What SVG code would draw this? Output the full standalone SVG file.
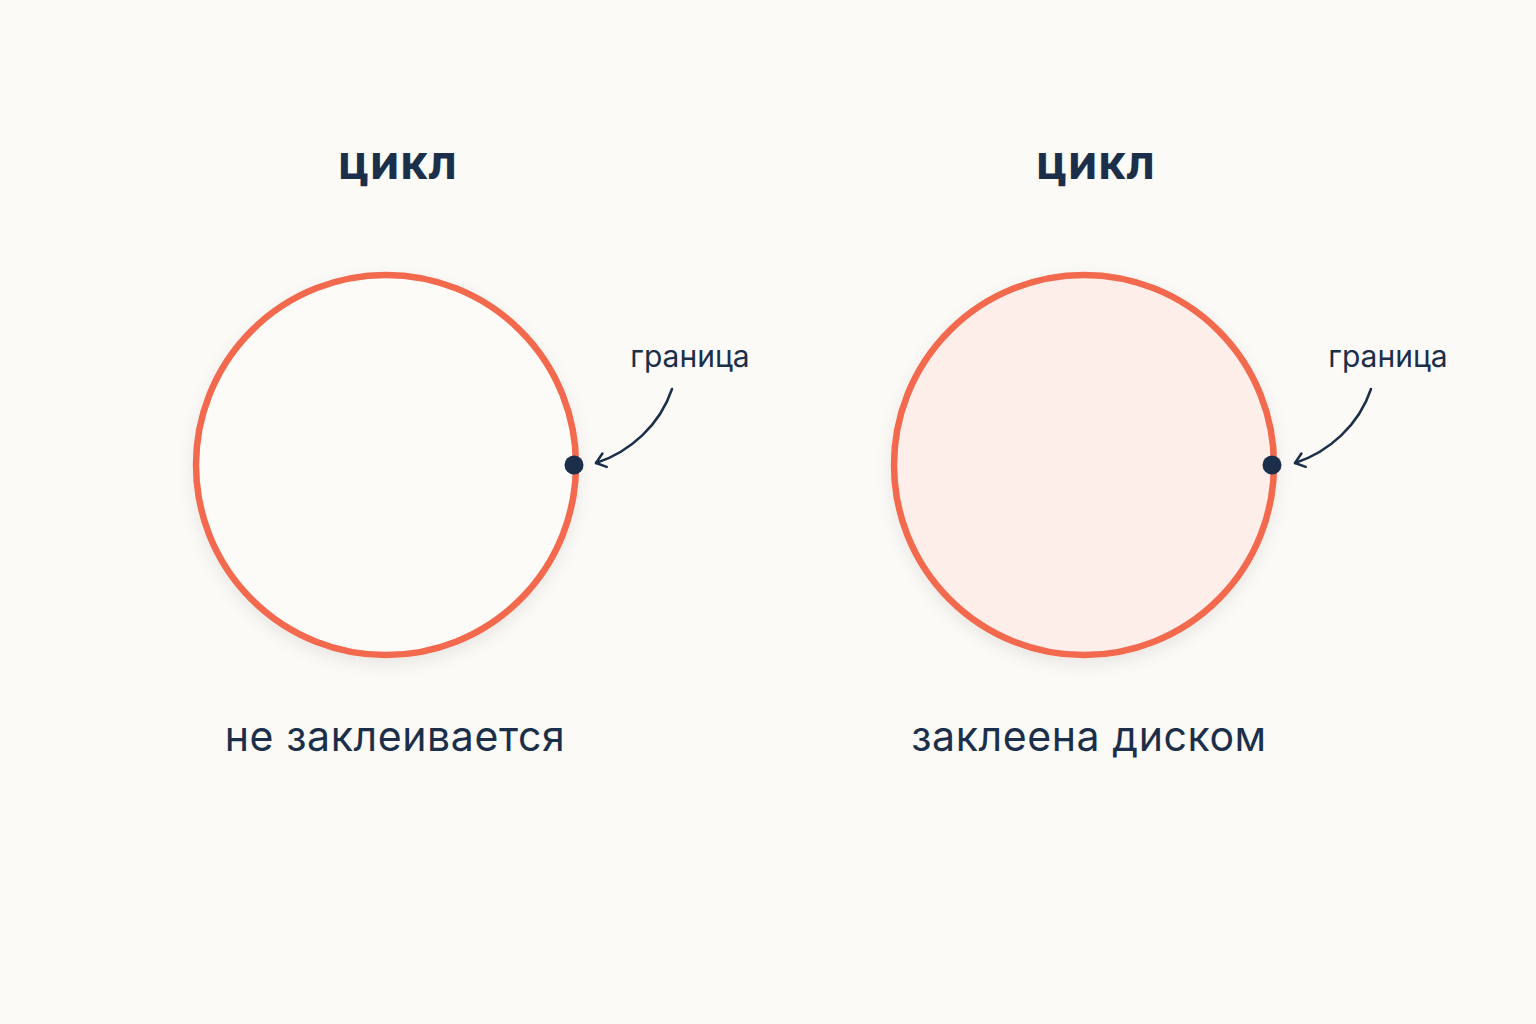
<svg xmlns="http://www.w3.org/2000/svg" width="1536" height="1024" viewBox="0 0 1536 1024">
<defs>
<style>
.title{font-family:Inter,"Open Sans","DejaVu Sans",sans-serif;font-weight:700;font-size:47px;fill:#1B2F4A;text-anchor:middle;letter-spacing:1px}
.cap{font-family:Inter,"Open Sans","DejaVu Sans",sans-serif;font-size:41px;fill:#1B2F4A;text-anchor:middle;letter-spacing:0.6px}
.lbl{font-family:Inter,"Open Sans","DejaVu Sans",sans-serif;font-size:30px;fill:#1B2F4A;text-anchor:middle}
.ring{stroke:#F2694E;stroke-width:6.5}
.dot{fill:#1B2F4A}
.arr{fill:none;stroke:#1B2F4A;stroke-width:2.5;stroke-linecap:round}
</style>
<filter id="sh" x="-20%" y="-20%" width="140%" height="140%">
<feDropShadow dx="0" dy="6" stdDeviation="8" flood-color="#000" flood-opacity="0.08"/>
</filter>
<marker id="ah" viewBox="0 0 20 20" refX="16" refY="10" markerWidth="20" markerHeight="20" markerUnits="userSpaceOnUse" orient="auto">
<path d="M7,3 L16,10 L7,17" fill="none" stroke="#1B2F4A" stroke-width="2.5" stroke-linecap="round" stroke-linejoin="round"/>
</marker>
</defs>
<rect width="1536" height="1024" fill="#FCFAF6"/>
<g id="left">
<text class="title" x="398" y="179">цикл</text>
<circle class="ring" cx="386" cy="465" r="190" fill="#FDFBF8" filter="url(#sh)"/>
<text class="cap" x="395" y="751">не заклеивается</text>
</g>
<g id="right">
<text class="title" x="1096" y="179">цикл</text>
<circle class="ring" cx="1084" cy="465" r="190" fill="#FDEEEA" filter="url(#sh)"/>
<text class="cap" x="1089" y="751">заклеена диском</text>
</g>
<g id="left-boundary">
<circle class="dot" cx="574" cy="465" r="9.5"/>
<text class="lbl" x="690" y="367">граница</text>
</g>
<g id="right-boundary">
<circle class="dot" cx="1272" cy="465" r="9.5"/>
<text class="lbl" x="1388" y="367">граница</text>
</g>
<g id="connectors">
<path class="arr" d="M672,389 C660,425 630,452 596,463" marker-end="url(#ah)"/>
<path class="arr" d="M1371,389 C1359,425 1329,452 1295,463" marker-end="url(#ah)"/>
</g>
</svg>
